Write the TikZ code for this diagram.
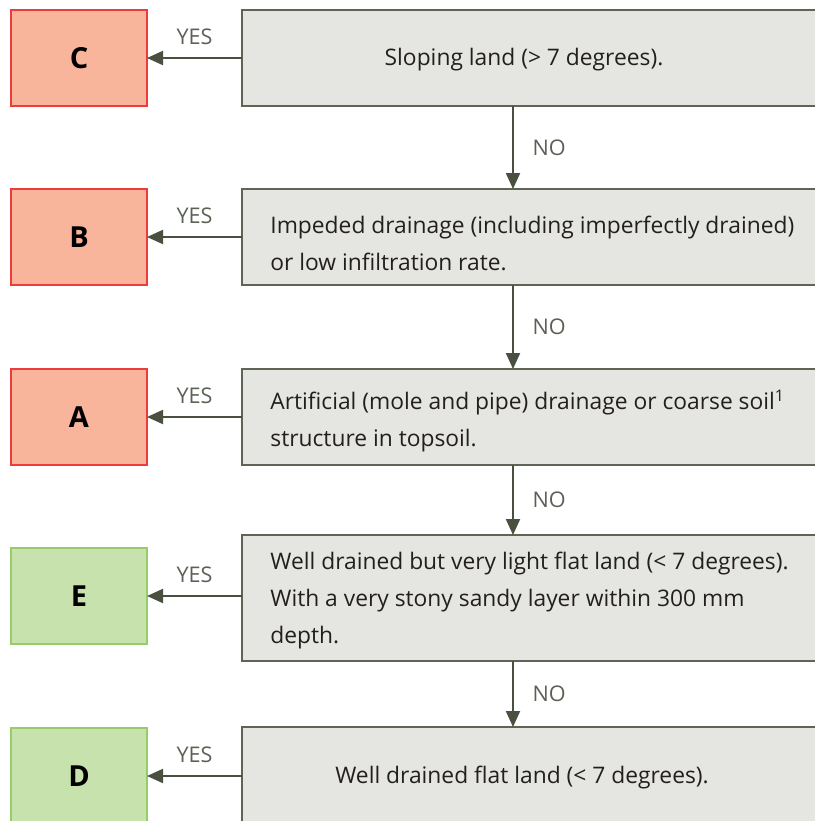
\documentclass[tikz,border=0pt]{standalone}
\usepackage{fontspec}
\setmainfont{Open Sans}
\usetikzlibrary{arrows.meta}
\definecolor{RedFill}{HTML}{F9B49C}
\definecolor{RedLine}{HTML}{EE3B3B}
\definecolor{GreenFill}{HTML}{C8E2AE}
\definecolor{GreenLine}{HTML}{96CC6A}
\definecolor{QFill}{HTML}{E5E6E1}
\definecolor{QLine}{HTML}{5E6554}
\definecolor{FlowClr}{HTML}{4A5040}
\definecolor{TxtClr}{HTML}{231F20}
\definecolor{AnsClr}{HTML}{5C6156}

\tikzset{
  classbox/.style={draw=RedLine,fill=RedFill,line width=0.75pt,minimum width=68pt,
    minimum height=48pt,inner sep=0pt,outer sep=0pt,text=black,
    font=\fontsize{14.5}{16}\selectfont\bfseries},
  greenbox/.style={classbox,draw=GreenLine,fill=GreenFill},
  qbox/.style={draw=QLine,fill=QFill,line width=0.75pt,minimum width=300pt,
    minimum height=48pt,inner sep=0pt,outer sep=0pt,anchor=north west},
  qtext/.style={text=TxtClr,align=left,inner sep=0pt,font=\fontsize{11.4}{18.5}\selectfont},
  flow/.style={draw=FlowClr,line width=1pt,-{Triangle[length=8pt,width=7pt]}},
  answer/.style={text=AnsClr,font=\fontsize{10.8}{12}\selectfont}
}

\begin{document}
\begin{tikzpicture}[x=0.5pt,y=-0.5pt]
\useasboundingbox (0,0) rectangle (815,821);
\clip (0,0) rectangle (815,821);

% question boxes
\node[qbox] (q1) at (242,10) {};
\node[qbox] (q2) at (242,189) {};
\node[qbox] (q3) at (242,369) {};
\node[qbox,minimum height=63pt] (q4) at (242,535) {};
\node[qbox] (q5) at (242,727) {};

\node[qtext] (t1) at (524,60) {Sloping land (> 7 degrees).};
\node[qtext,anchor=west] (t2) at (270,243)
  {Impeded drainage (including imperfectly drained)\\or low infiltration rate.};
\node[qtext,anchor=west] (t3) at (270,421)
  {Artificial (mole and pipe) drainage or coarse soil\textsuperscript{1}\\structure in topsoil.};
\node[qtext,anchor=west] (t4) at (270,601)
  {Well drained but very light flat land (< 7 degrees).\\With a very stony sandy layer within 300 mm\\depth.};
\node[qtext] (t5) at (522,778) {Well drained flat land (< 7 degrees).};

% classes
\node[classbox] (c) at (79,58) {C};
\node[classbox] (b) at (79,237) {B};
\node[classbox] (a) at (79,417) {A};
\node[greenbox] (e) at (79,596) {E};
\node[greenbox] (d) at (79,776) {D};

% yes
\draw[flow] (q1.west) -- node[answer,above=3pt] {YES} (c.east);
\draw[flow] (q2.west) -- node[answer,above=3pt] {YES} (b.east);
\draw[flow] (q3.west |- a.east) -- node[answer,above=3pt] {YES} (a.east);
\draw[flow] (q4.west |- e.east) -- node[answer,above=3pt] {YES} (e.east);
\draw[flow] (q5.west |- d.east) -- node[answer,above=3pt] {YES} (d.east);

% no
\coordinate (ax) at (513,0);
\draw[flow] (q1.south -| ax) -- node[answer,right=6pt] {NO} (q2.north -| ax);
\draw[flow] (q2.south -| ax) -- node[answer,right=6pt] {NO} (q3.north -| ax);
\draw[flow] (q3.south -| ax) -- node[answer,right=6pt] {NO} (q4.north -| ax);
\draw[flow] (q4.south -| ax) -- node[answer,right=6pt] {NO} (q5.north -| ax);

\end{tikzpicture}
\end{document}
